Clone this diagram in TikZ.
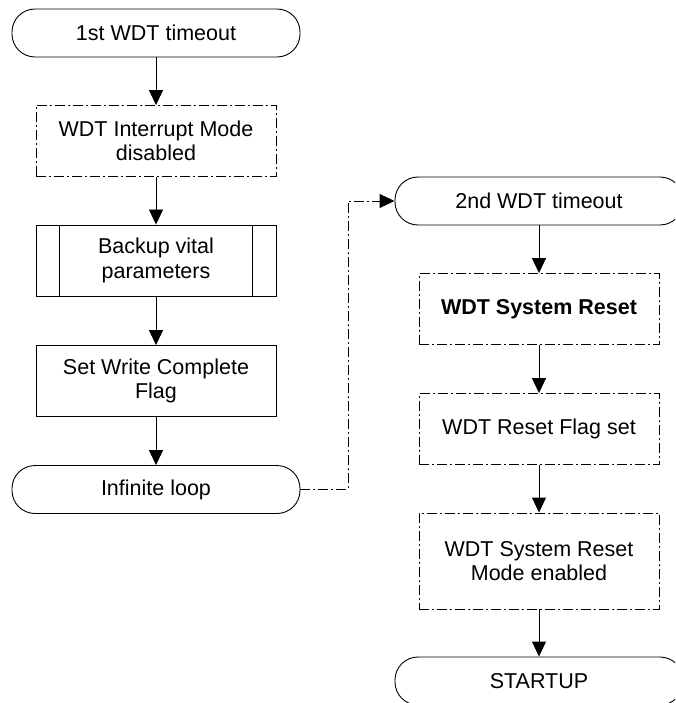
\documentclass[tikz,border=0pt]{standalone}
\usepackage{fontspec}
\setmainfont{Liberation Sans}
\usetikzlibrary{arrows.meta}
\begin{document}
\begin{tikzpicture}[x=1pt,y=-1pt,
  line width=0.9pt,
  every node/.style={font=\fontsize{21.5}{24.5}\selectfont, align=center, inner sep=0pt},
  term/.style={draw, rounded corners=23pt, minimum width=288pt, minimum height=48pt},
  proc/.style={draw, minimum width=240pt, minimum height=71pt},
  dashdot/.style={dash pattern=on 10pt off 3pt on 2pt off 3pt},
  dproc/.style={proc, dashdot},
  flow/.style={-{Triangle[length=15pt,width=14pt]}}]
\useasboundingbox (0,0) rectangle (675,703);
\clip (0,0) rectangle (675,703);

% left column
\node[term]  (t1)  at (156,33)    {1st WDT timeout};
\node[dproc] (irq) at (156,141)   {WDT Interrupt Mode\\disabled};
\node[proc]  (bk)  at (156,260.5) {Backup vital\\parameters};
\draw ([xshift=24pt]bk.north west) -- ([xshift=24pt]bk.south west);
\draw ([xshift=-24pt]bk.north east) -- ([xshift=-24pt]bk.south east);
\node[proc]  (wc)  at (156,381)   {Set Write Complete\\Flag};
\node[term]  (inf) at (156,489.5) {Infinite loop};

% right column
\node[term]  (t2)  at (539,201)   {2nd WDT timeout};
\node[dproc] (sr)  at (539,309)   {\bfseries WDT System Reset};
\node[dproc] (rf)  at (539,429)   {WDT Reset Flag set};
\node[dproc, minimum height=96pt] (me) at (539,561) {WDT System Reset\\Mode enabled};
\node[term]  (st)  at (539,681)   {STARTUP};

% connectors
\draw[flow] (t1) -- (irq);
\draw[flow] (irq) -- (bk);
\draw[flow] (bk) -- (wc);
\draw[flow] (wc) -- (inf);
\coordinate (bend) at (348,489.5);
\draw[flow, dashdot] (inf.east) -- (bend) |- (t2.west);
\draw[flow] (t2) -- (sr);
\draw[flow] (sr) -- (rf);
\draw[flow] (rf) -- (me);
\draw[flow] (me) -- (st);
\end{tikzpicture}
\end{document}
